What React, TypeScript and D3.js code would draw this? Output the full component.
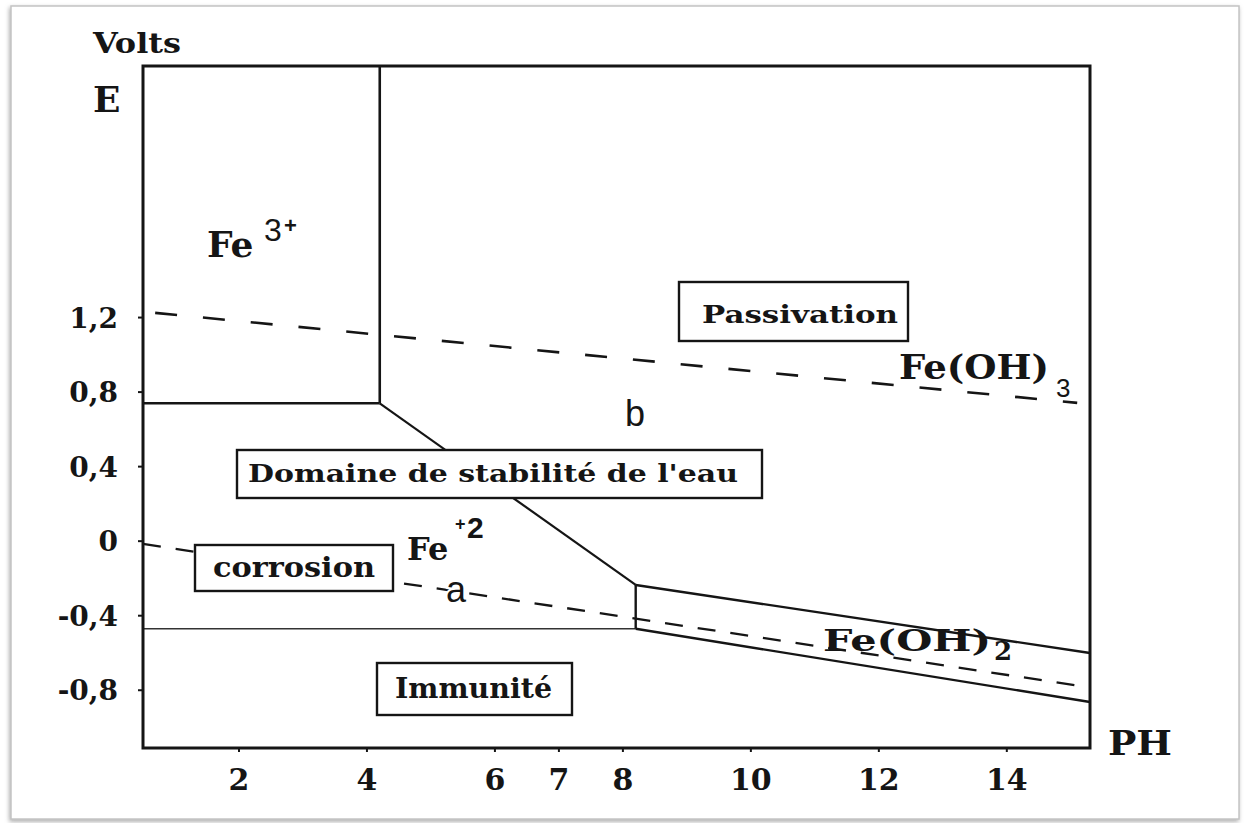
import React from "react";
import * as d3 from "d3";

// Axis ticks
const phTicks = [2, 4, 6, 7, 8, 10, 12, 14];
const potentialTicks = [1.2, 0.8, 0.4, 0, -0.4, -0.8];
const potentialTickLabels = ["1,2", "0,8", "0,4", "0", "-0,4", "-0,8"];
const phDomain = [0.5, 15.3];
const potentialDomain = [-1.11, 2.55];

// Stability boundaries of the Fe / H2O system, [pH, E (V)]
const fe3PlusLimit = [[4.2, 2.55], [4.2, 0.74]];
const fe3Fe2Line = [[0.5, 0.74], [4.2, 0.74]];
const fe2Fe3HydroxideLine = [[4.2, 0.74], [8.2, -0.235]];
const fe2Fe2HydroxideLine = [[8.2, -0.235], [8.2, -0.47]];
const feFe2Line = [[0.5, -0.47], [8.2, -0.47]];
const hydroxidesLine = [[8.2, -0.235], [15.3, -0.6]];
const feFe2HydroxideLine = [[8.2, -0.47], [15.3, -0.863]];

// Water stability limits (dashed)
const oxygenLine = [[0.69, 1.225], [15.1, 0.742]];
const hydrogenLine = [[0.5, -0.015], [15.14, -0.777]];

const W = 1244;
const H = 823;
const plot = { left: 143, top: 66, right: 1090, bottom: 748 };

const serif = "'DejaVu Serif', 'Liberation Serif', serif";
const sans = "'Liberation Sans', Arial, sans-serif";
const ink = "#151515";

export default function App() {
  const x = d3.scaleLinear().domain(phDomain).range([plot.left, plot.right]);
  const y = d3.scaleLinear().domain(potentialDomain).range([plot.bottom, plot.top]);
  const line = d3
    .line<number[]>()
    .x((d) => x(d[0]))
    .y((d) => y(d[1]));

  const solid = [
    { d: fe3PlusLimit, w: 2.6 },
    { d: fe3Fe2Line, w: 2.6 },
    { d: fe2Fe3HydroxideLine, w: 2.2 },
    { d: fe2Fe2HydroxideLine, w: 2.4 },
    { d: hydroxidesLine, w: 2.4 },
    { d: feFe2HydroxideLine, w: 2.4 },
  ];

  const box = (bx: number, by: number, bw: number, bh: number) => (
    <rect x={bx} y={by} width={bw} height={bh} fill="#fff" stroke={ink} strokeWidth={2.4} />
  );

  return (
    <svg
      width={W}
      height={H}
      viewBox={`0 0 ${W} ${H}`}
      style={{ position: "absolute", left: 0, top: 0, background: "#fff" }}
    >
      <defs>
        <filter id="frameShadow" x="-2%" y="-2%" width="104%" height="104%">
          <feDropShadow dx="-1" dy="2" stdDeviation="2" floodColor="#8a8a8a" floodOpacity="0.7" />
        </filter>
      </defs>

      {/* page frame */}
      <rect x={11} y={6} width={1228} height={813} fill="#fff" stroke="#c4c4c4" strokeWidth={1.5} filter="url(#frameShadow)" />

      {/* water stability lines */}
      <path d={line(oxygenLine) || ""} fill="none" stroke={ink} strokeWidth={2.6} strokeDasharray="22 26" />
      <path d={line(hydrogenLine) || ""} fill="none" stroke={ink} strokeWidth={2.3} strokeDasharray="18 15" />

      {/* Fe / Fe2+ boundary */}
      <path d={line(feFe2Line) || ""} fill="none" stroke="#333" strokeWidth={1.6} />

      {/* other boundaries */}
      {solid.map((s, i) => (
        <path key={i} d={line(s.d) || ""} fill="none" stroke={ink} strokeWidth={s.w} />
      ))}

      {/* plot frame */}
      <rect
        x={plot.left}
        y={plot.top}
        width={plot.right - plot.left}
        height={plot.bottom - plot.top}
        fill="none"
        stroke={ink}
        strokeWidth={3}
      />

      {/* y axis ticks */}
      {potentialTicks.map((v, i) => (
        <g key={v}>
          <line x1={plot.left - 5} x2={plot.left} y1={y(v)} y2={y(v)} stroke={ink} strokeWidth={2} />
          <text
            x={118}
            y={y(v) + 10}
            textAnchor="end"
            fontFamily={serif}
            fontWeight="bold"
            fontSize={28}
            fill={ink}
          >
            {potentialTickLabels[i]}
          </text>
        </g>
      ))}

      {/* x axis ticks */}
      {phTicks.map((p) => (
        <g key={p}>
          <line x1={x(p)} x2={x(p)} y1={plot.bottom} y2={plot.bottom + 4} stroke={ink} strokeWidth={2} />
          <text
            x={x(p)}
            y={790}
            textAnchor="middle"
            fontFamily={serif}
            fontWeight="bold"
            fontSize={30}
            fill={ink}
          >
            {p}
          </text>
        </g>
      ))}

      {/* axis titles */}
      <text x={93} y={53} fontFamily={serif} fontWeight="bold" fontSize={27} fill={ink} textLength={88} lengthAdjust="spacingAndGlyphs">
        Volts
      </text>
      <text x={93} y={112} fontFamily={serif} fontWeight="bold" fontSize={36} fill={ink}>
        E
      </text>
      <text x={1108} y={755} fontFamily={serif} fontWeight="bold" fontSize={34} fill={ink} textLength={64} lengthAdjust="spacingAndGlyphs">
        PH
      </text>

      {/* domain labels in boxes */}
      {box(679, 282, 229, 59)}
      <text x={702} y={323} fontFamily={serif} fontSize={25} fontWeight="bold" fill={ink} textLength={196} lengthAdjust="spacingAndGlyphs">
        Passivation
      </text>

      {box(237, 450, 525, 48)}
      <text x={248} y={482} fontFamily={serif} fontSize={25} fontWeight="bold" fill={ink} textLength={490} lengthAdjust="spacingAndGlyphs">
        Domaine de stabilité de l'eau
      </text>

      {box(195, 545, 198, 46)}
      <text x={213} y={577} fontFamily={serif} fontSize={28} fontWeight="bold" fill={ink} textLength={162} lengthAdjust="spacingAndGlyphs">
        corrosion
      </text>

      {box(377, 663, 195, 52)}
      <text x={395} y={698} fontFamily={serif} fontSize={27} fontWeight="bold" fill={ink} textLength={157} lengthAdjust="spacingAndGlyphs">
        Immunité
      </text>

      {/* species labels */}
      <text x={207} y={257} fontFamily={serif} fontWeight="bold" fontSize={36} fill={ink}>
        Fe
      </text>
      <text x={264} y={241} fontFamily={sans} fontSize={32} fill={ink}>
        3
      </text>
      <text x={284} y={233} fontFamily={sans} fontWeight="bold" fontSize={22} fill={ink}>
        +
      </text>

      <text x={407} y={560} fontFamily={serif} fontWeight="bold" fontSize={32} fill={ink}>
        Fe
      </text>
      <text x={455} y={530} fontFamily={sans} fontWeight="bold" fontSize={18} fill={ink}>
        +
      </text>
      <text x={467} y={538} fontFamily={sans} fontWeight="bold" fontSize={30} fill={ink}>
        2
      </text>

      <text x={899} y={379} fontFamily={serif} fontWeight="bold" fontSize={34} fill={ink} textLength={150} lengthAdjust="spacingAndGlyphs">
        Fe(OH)
      </text>
      <text x={1056} y={397} fontFamily={sans} fontSize={26} fill={ink}>
        3
      </text>

      <text x={823} y={651} fontFamily={serif} fontWeight="bold" fontSize={29} fill={ink} textLength={168} lengthAdjust="spacingAndGlyphs">
        Fe(OH)
      </text>
      <text x={994} y={660} fontFamily={serif} fontWeight="bold" fontSize={26} fill={ink}>
        2
      </text>

      {/* line markers */}
      <text x={446} y={602} fontFamily={sans} fontSize={36} fill={ink} stroke="#fff" strokeWidth={4} paintOrder="stroke">
        a
      </text>
      <text x={625} y={426} fontFamily={sans} fontSize={36} fill={ink}>
        b
      </text>
    </svg>
  );
}
